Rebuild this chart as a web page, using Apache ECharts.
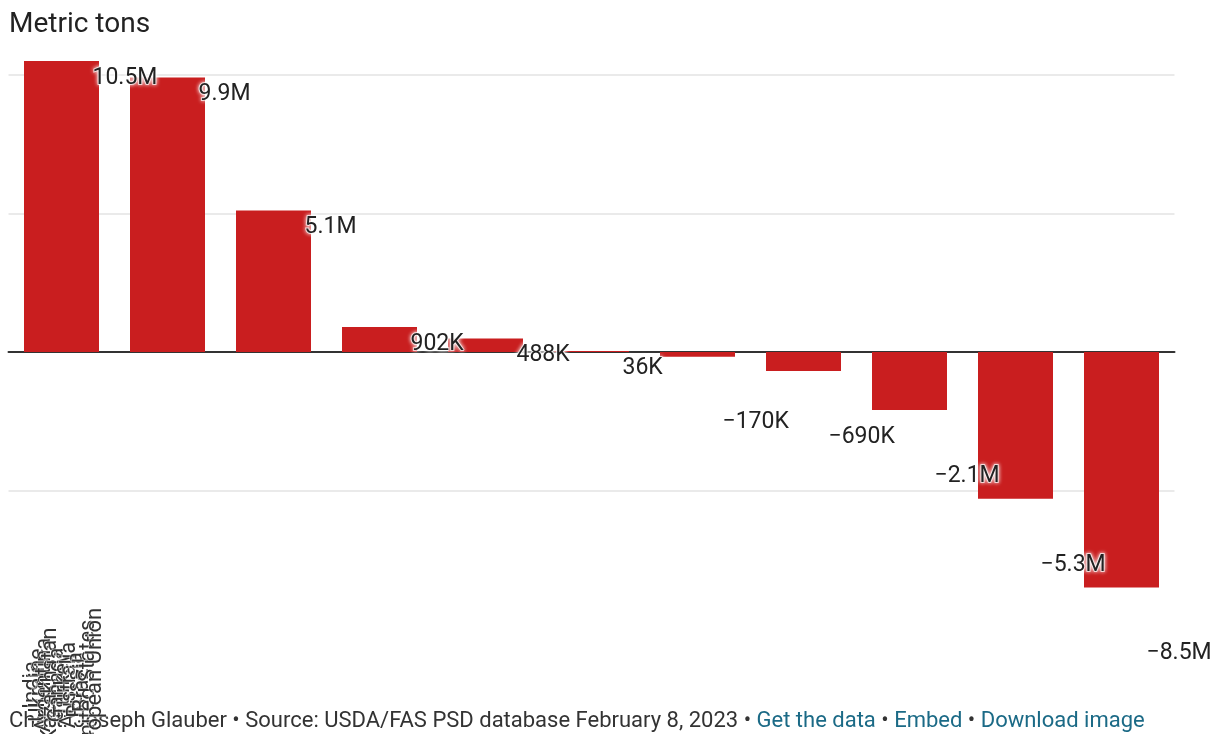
<!DOCTYPE html>
<html>
<head>
<meta charset="utf-8">
<script src="https://cdn.jsdelivr.net/npm/echarts@6/dist/echarts.min.js"></script>
<style>
  html, body { margin: 0; padding: 0; background: #fff; }
  #chart { width: 1213px; height: 734px; }
</style>
</head>
<body>
<div id="chart"></div>
<script>
// Change by country, metric tons
const categories = ['India', 'Ukraine', 'Argentina', 'Kazakhstan', 'Canada', 'Turkey',
  'Australia', 'Russia', 'Brazil', 'United States', 'European Union'];
const values = [10.5e6, 9.9e6, 5.1e6, 902e3, 488e3, 36e3, -170e3, -690e3, -2.1e6, -5.3e6, -8.5e6];
const yTicks = { min: -10e6, max: 10.5e6, interval: 5e6 };

const unitTitle = 'Metric tons';
const footerText = 'Chart: Joseph Glauber • Source: USDA/FAS PSD database February 8, 2023 • ';
const footerLinks = ['Get the data', 'Embed', 'Download image'];

const FONT = 'Roboto, "Noto Sans", sans-serif';
const BAR_RED = '#c91e1f';

function fmt(v) {
  const a = Math.abs(v);
  const s = a >= 1e6 ? (a / 1e6).toFixed(1) + 'M' : Math.round(a / 1e3) + 'K';
  return (v < 0 ? '\u2212' : '') + s;
}

const halo = {
  textBorderColor: 'rgba(255,255,255,0.7)',
  textBorderWidth: 2,
  textShadowColor: '#fff',
  textShadowBlur: 4
};

const barData = values.map(v => ({
  value: v,
  label: v >= 0
    ? { position: 'top', offset: [31, 17] }
    : { position: 'bottom', offset: [25, 66] }
}));

const chart = echarts.init(document.getElementById('chart'), null, { renderer: 'canvas' });

chart.setOption({
  animation: false,
  backgroundColor: '#fff',
  grid: [
    { left: 8.5, width: 1166, top: 61, height: 568, outerBoundsMode: 'none' },
    { left: 28.9, width: 69.3, top: 600, height: 75, outerBoundsMode: 'none' }
  ],
  xAxis: [
    {
      type: 'category',
      gridIndex: 0,
      data: categories,
      axisTick: { show: false },
      axisLabel: { show: false },
      axisLine: { onZero: true, lineStyle: { color: '#333', width: 2 } }
    },
    {
      type: 'category',
      gridIndex: 1,
      data: categories,
      axisTick: { show: false },
      axisLine: { show: false },
      axisLabel: {
        interval: 0,
        rotate: 90,
        align: 'center',
        verticalAlign: 'middle',
        margin: 10,
        fontFamily: FONT,
        fontSize: 22,
        color: '#333',
        textBorderColor: 'rgba(255,255,255,0.6)',
        textBorderWidth: 1.5
      }
    }
  ],
  yAxis: [
    {
      type: 'value',
      gridIndex: 0,
      min: yTicks.min,
      max: yTicks.max,
      interval: yTicks.interval,
      axisLabel: { show: false },
      axisLine: { show: false },
      axisTick: { show: false },
      splitLine: {
        show: true,
        showMinLine: false,
        showMaxLine: false,
        lineStyle: { color: '#e3e3e3', width: 1.5 }
      }
    },
    {
      type: 'value',
      gridIndex: 1,
      show: false
    }
  ],
  series: [
    {
      type: 'bar',
      xAxisIndex: 0,
      yAxisIndex: 0,
      data: barData,
      barWidth: 75,
      itemStyle: { color: BAR_RED },
      label: Object.assign({
        show: true,
        distance: 0,
        align: 'left',
        verticalAlign: 'middle',
        fontFamily: FONT,
        fontSize: 23,
        color: '#222',
        formatter: p => fmt(p.value)
      }, halo)
    }
  ],
  graphic: [
    {
      type: 'text',
      left: 9,
      top: 11,
      style: {
        text: unitTitle,
        fontFamily: FONT,
        fontSize: 28,
        fill: '#222'
      }
    },
    {
      type: 'text',
      left: 9,
      top: 710,
      style: {
        text: '{a|' + footerText + '}' +
          footerLinks.map(t => '{l|' + t + '}').join('{a| • }'),
        rich: {
          a: { fontFamily: FONT, fontSize: 22, fill: '#333' },
          l: { fontFamily: FONT, fontSize: 22, fill: '#1b6a86' }
        }
      }
    }
  ]
});
</script>
</body>
</html>
